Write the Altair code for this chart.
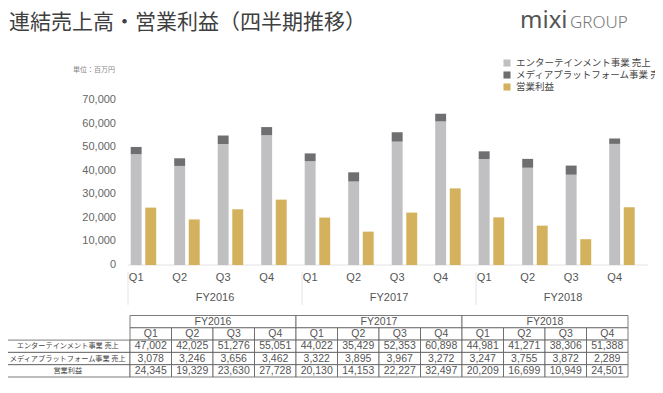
import altair as alt
import pandas as pd

# ---------------- data ----------------
years = ["FY2016", "FY2017", "FY2018"]
quarters = ["Q1", "Q2", "Q3", "Q4"]
ent_sales = [47002, 42025, 51276, 55051, 44022, 35429, 52353, 60898, 44981, 41271, 38306, 51388]
media_sales = [3078, 3246, 3656, 3462, 3322, 3895, 3967, 3272, 3247, 3755, 3872, 2289]
op_profit = [24345, 19329, 23630, 27728, 20130, 14153, 22227, 32497, 20209, 16699, 10949, 24501]
series_names = ["エンターテインメント事業 売上", "メディアプラットフォーム事業 売上", "営業利益"]
series_colors = ["#c0bfc2", "#6f6f71", "#d4b15d"]
y_ticks = [0, 10000, 20000, 30000, 40000, 50000, 60000, 70000]
title_text = "連結売上高・営業利益（四半期推移）"
unit_text = "単位：百万円"
logo_main = "mixi"
logo_sub = "GROUP"

JP = "Noto Sans CJK JP"
LAT = "Liberation Sans"

# ---------------- tables ----------------
keys = [f"{y} {q}" for y in years for q in quarters]
rows = []
for i, k in enumerate(keys):
    rows.append(dict(key=k, year=years[i // 4], q=quarters[i % 4],
                     ent=ent_sales[i], top=ent_sales[i] + media_sales[i],
                     op=op_profit[i], ss="sales", sp="profit"))
df = pd.DataFrame(rows)

xs = alt.Scale(domain=keys, range=[120, 642], paddingInner=0, paddingOuter=0)
xo = alt.Scale(domain=["sales", "profit"], range=[2.7, 28.2], paddingInner=0.25, paddingOuter=0)
ys = alt.Scale(domain=[0, 70000], range=[257, 92], nice=False, zero=False)

base = alt.Chart(df)
gray = base.mark_bar(color=series_colors[0]).encode(
    x=alt.X("key:N", scale=xs, axis=None),
    xOffset=alt.XOffset("ss:N", scale=xo),
    y=alt.Y("ent:Q", scale=ys, axis=None),
    y2=alt.Y2(datum=0),
)
dark = base.mark_bar(color=series_colors[1]).encode(
    x=alt.X("key:N", scale=xs, axis=None),
    xOffset=alt.XOffset("ss:N", scale=xo),
    y=alt.Y("top:Q", scale=ys, axis=None),
    y2="ent:Q",
)
gold = base.mark_bar(color=series_colors[2]).encode(
    x=alt.X("key:N", scale=xs, axis=None),
    xOffset=alt.XOffset("sp:N", scale=xo),
    y=alt.Y("op:Q", scale=ys, axis=None),
    y2=alt.Y2(datum=0),
)
qlabels = base.mark_text(font=LAT, fontSize=11, color="#555", baseline="middle").encode(
    x=alt.X("key:N", scale=xs, axis=None),
    xOffset=alt.XOffset("ss:N", scale=xo),
    y=alt.value(270),
    text="q:N",
)
yr_df = pd.DataFrame({"year": years,
                      "k1": [f"{y} Q1" for y in years],
                      "k3": [f"{y} Q3" for y in years]})
fylabels = alt.Chart(yr_df).mark_text(font=LAT, fontSize=11, color="#555", baseline="middle").encode(
    x=alt.X("k3:N", scale=xs, axis=None, bandPosition=0),
    y=alt.value(290),
    text="year:N",
)
seps = alt.Chart(yr_df).mark_rule(color="#e4e4e4", strokeWidth=1).encode(
    x=alt.X("k1:N", scale=xs, axis=None, bandPosition=0),
    y=alt.value(264),
    y2=alt.value(297),
)
tick_df = pd.DataFrame({"v": y_ticks})
ylabels = alt.Chart(tick_df).mark_text(font=LAT, fontSize=11, color="#666",
                                       align="right", baseline="middle").encode(
    y=alt.Y("v:Q", scale=ys, axis=None),
    x=alt.value(108),
    text=alt.Text("v:Q", format=","),
)
baseline = alt.Chart(pd.DataFrame({"v": [y_ticks[0]]})).mark_rule(color="#e2e2e2", strokeWidth=1).encode(
    y=alt.Y("v:Q", scale=ys, axis=None),
    x=alt.value(120),
    x2=alt.value(640),
)
bars_layer = alt.layer(baseline, gray, dark, gold, qlabels, fylabels, seps, ylabels)

# ---------------- data table ----------------
cells = []
for yi, y in enumerate(years):
    cells.append(dict(c0=4 * yi, c1=4 * yi + 4, r0=0, r1=1, t=y, kind="num"))
for i in range(12):
    cells.append(dict(c0=i, c1=i + 1, r0=1, r1=2, t=quarters[i % 4], kind="num"))
series_vals = [ent_sales, media_sales, op_profit]
for r, (name, vals) in enumerate(zip(series_names, series_vals)):
    cells.append(dict(c0=-3, c1=0, r0=2 + r, r1=3 + r, t=name, kind="label"))
    for i, v in enumerate(vals):
        cells.append(dict(c0=i, c1=i + 1, r0=2 + r, r1=3 + r, t=f"{v:,}", kind="num"))
cdf = pd.DataFrame(cells)

tx = alt.Scale(domain=[0, 12], range=[122, 620], nice=False, zero=False)
ty = alt.Scale(domain=[0, 5], range=[307.5, 369], nice=False, zero=False)
tbase = alt.Chart(cdf).transform_calculate(
    xm="(datum.c0 + datum.c1) / 2", ym="(datum.r0 + datum.r1) / 2"
)
tcells = tbase.mark_rect(fill="white", stroke="#5a5a5a", strokeWidth=0.8).encode(
    x=alt.X("c0:Q", scale=tx, axis=None),
    x2="c1:Q",
    y=alt.Y("r0:Q", scale=ty, axis=None),
    y2="r1:Q",
)
tnums = tbase.transform_filter("datum.kind == 'num'").mark_text(
    font=LAT, fontSize=10.5, color="#555", baseline="middle").encode(
    x=alt.X("xm:Q", scale=tx, axis=None),
    y=alt.Y("ym:Q", scale=ty, axis=None),
    text="t:N",
)
tlabels = tbase.transform_filter("datum.kind == 'label'").mark_text(
    font=JP, fontSize=7.2, color="#444", baseline="middle").encode(
    x=alt.X("xm:Q", scale=tx, axis=None),
    y=alt.Y("ym:Q", scale=ty, axis=None),
    text="t:N",
)
table_layer = alt.layer(tcells, tnums, tlabels)

# ---------------- legend & titles ----------------
leg_df = pd.DataFrame({"name": series_names, "idx": [0, 1, 2]})
ly = alt.Scale(domain=[0, 2], range=[55, 79], nice=False, zero=False)
lcol = alt.Scale(domain=series_names, range=series_colors)
leg_sq = alt.Chart(leg_df).mark_square(size=50, opacity=1).encode(
    x=alt.value(499),
    y=alt.Y("idx:Q", scale=ly, axis=None),
    color=alt.Color("name:N", scale=lcol, legend=None),
)
leg_tx = alt.Chart(leg_df).mark_text(font=JP, fontSize=9.5, color="#444",
                                     align="left", baseline="middle").encode(
    x=alt.value(508),
    y=alt.Y("idx:Q", scale=ly, axis=None),
    text="name:N",
)
txt_df = pd.DataFrame({"title": [title_text], "unit": [unit_text],
                       "logo": [logo_main], "sub": [logo_sub]})
title = alt.Chart(txt_df).mark_text(font=JP, fontSize=21, fontWeight=400, color="#3f3f3f",
                                    align="left", baseline="alphabetic").encode(
    x=alt.value(1), y=alt.value(21), text="title:N")
unit = alt.Chart(txt_df).mark_text(font=JP, fontSize=7, color="#888",
                                   align="right", baseline="middle").encode(
    x=alt.value(107), y=alt.value(62), text="unit:N")
logo = alt.Chart(txt_df).mark_text(font="Noto Sans", fontSize=24, color="#555",
                                   align="left", baseline="alphabetic").encode(
    x=alt.value(512), y=alt.value(20), text="logo:N")
logo2 = alt.Chart(txt_df).mark_text(font="Noto Sans", fontSize=17, fontWeight=300, color="#777",
                                    align="left", baseline="alphabetic").encode(
    x=alt.value(562), y=alt.value(20), text="sub:N")
leg_layer = alt.layer(leg_sq, leg_tx, title, unit, logo, logo2)

chart = alt.layer(bars_layer, table_layer, leg_layer).resolve_scale(
    x="independent", y="independent", color="independent", xOffset="independent"
).properties(
    width=647, height=377,
    autosize=alt.AutoSizeParams(type="none"),
    padding=0,
    background="white",
).configure_view(stroke="transparent", strokeWidth=0)

chart.save("out.html", embed_options={"renderer": "svg", "actions": False})
